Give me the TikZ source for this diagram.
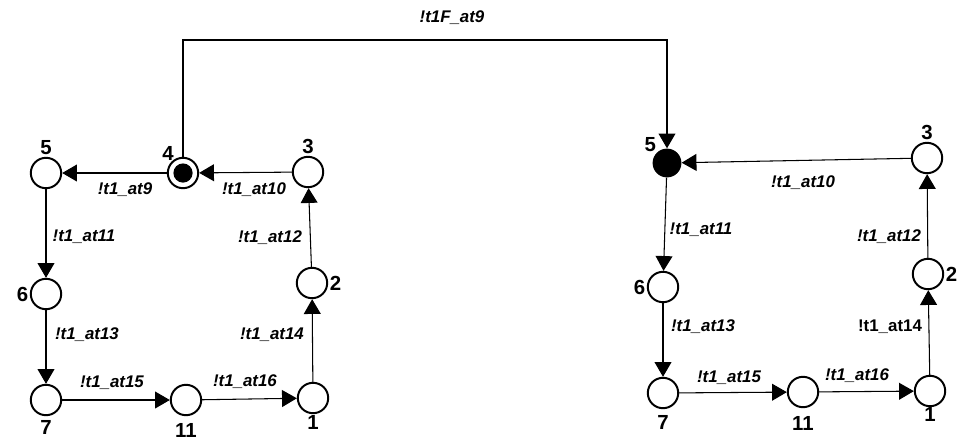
\documentclass[tikz,border=0pt]{standalone}
\usepackage{fontspec}
\setmainfont{Liberation Sans}
\usetikzlibrary{arrows.meta}

\tikzset{
  place/.style={circle, draw, line width=1.4pt, minimum size=0.76cm, inner sep=0pt},
  marked/.style={place, path picture={\fill (path picture bounding box.center) circle (0.24cm);}},
  token/.style={circle, fill=black, minimum size=0.72cm, inner sep=0pt},
  num/.style={font=\fontsize{14.5}{16}\selectfont\bfseries, inner sep=1pt},
  lbl/.style={font=\fontsize{12}{14}\selectfont\bfseries\itshape, inner sep=1pt},
  arc/.style={line width=0.75pt, -{Triangle[length=10.5pt, width=12pt]}}
}

\begin{document}
\begin{tikzpicture}[x=0.025cm, y=-0.025cm]
  \useasboundingbox (0,0) rectangle (970,442);

  % left net
  \begin{scope}
    \node[place, label={[num, label distance=0pt]above:5}] (a5) at (46,173) {};
    \node[marked, label={[num, label distance=-2pt]125:4}] (a4) at (183,173) {};
    \node[place, label={[num, label distance=0pt]above:3}] (a3) at (308,172) {};
    \node[place, label={[num, label distance=0pt]left:6}] (a6) at (46,294) {};
    \node[place, label={[num, label distance=0pt]right:2}] (a2) at (312,283) {};
    \node[place, label={[num, label distance=2pt]below:7}] (a7) at (46,400) {};
    \node[place, label={[num, label distance=4pt]below:11}] (a11) at (186,400) {};
    \node[place, label={[num, label distance=0pt]below:1}] (a1) at (313,398) {};

    \draw[arc] (a3) -- (a4);
    \draw[arc] (a4) -- (a5);
    \draw[arc] (a5) -- (a6);
    \draw[arc] (a6) -- (a7);
    \draw[arc] (a7) -- (a11);
    \draw[arc] (a11) -- (a1);
    \draw[arc] (a1) -- (a2);
    \draw[arc] (a2) -- (a3);

    \node[lbl] (l9) at (125,190) {!t1\_at9};
    \node[lbl] (l10) at (254,190) {!t1\_at10};
    \node[lbl] (l11) at (84,237) {!t1\_at11};
    \node[lbl] (l12) at (270,238) {!t1\_at12};
    \node[lbl] (l13) at (87,335) {!t1\_at13};
    \node[lbl] (l14) at (272,335) {!t1\_at14};
    \node[lbl] (l15) at (112,383) {!t1\_at15};
    \node[lbl] (l16) at (245,382) {!t1\_at16};
  \end{scope}

  % right net
  \begin{scope}
    \node[token, label={[num, label distance=-1pt]135:5}] (b5) at (667,163) {};
    \node[place, label={[num, label distance=0pt]above:3}] (b3) at (927,158) {};
    \node[place, label={[num, label distance=0pt]right:2}] (b2) at (928,274) {};
    \node[place, label={[num, label distance=0pt]left:6}] (b6) at (663,287) {};
    \node[place, label={[num, label distance=3pt]below:7}] (b7) at (663,393) {};
    \node[place, label={[num, label distance=5pt]below:11}] (b11) at (803,392) {};
    \node[place, label={[num, label distance=-1pt]below:1}] (b1) at (930,391) {};

    \draw[arc] (b3) -- (b5);
    \draw[arc] (b5) -- (b6);
    \draw[arc] (b6) -- (b7);
    \draw[arc] (b7) -- (b11);
    \draw[arc] (b11) -- (b1);
    \draw[arc] (b1) -- (b2);
    \draw[arc] (b2) -- (b3);

    \node[lbl] (m10) at (803,183) {!t1\_at10};
    \node[lbl] (m11) at (701,230) {!t1\_at11};
    \node[lbl] (m12) at (889,237) {!t1\_at12};
    \node[lbl] (m13) at (703,327) {!t1\_at13};
    \node[lbl, font=\fontsize{12}{14}\selectfont\bfseries] (m14) at (890,327) {!t1\_at14};
    \node[lbl] (m15) at (729,378) {!t1\_at15};
    \node[lbl] (m16) at (857,376) {!t1\_at16};
  \end{scope}

  % link between the two nets
  \coordinate (c1) at (183,40);
  \coordinate (c2) at (667,40);
  \draw[arc] (a4) -- (c1) -- (c2) -- (b5);
  \node[lbl] (lf) at (452,18) {!t1F\_at9};
\end{tikzpicture}
\end{document}
